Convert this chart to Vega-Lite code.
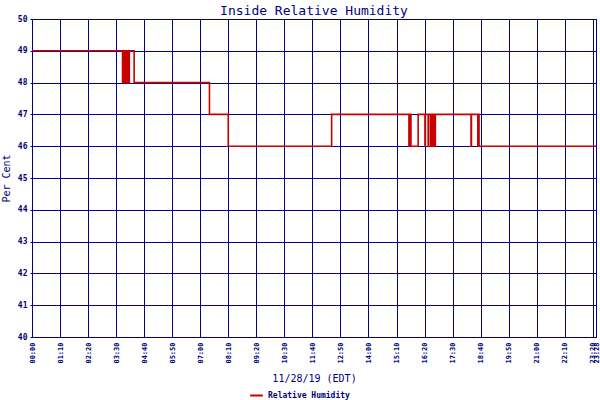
{
  "$schema": "https://vega.github.io/schema/vega-lite/v6.json",
  "width": 564,
  "height": 318,
  "autosize": "none",
  "padding": {"left": 32, "top": 19, "right": 4, "bottom": 63},
  "background": "white",
  "title": {"text": "Inside Relative Humidity", "font": "DejaVu Sans Mono", "fontSize": 13, "fontWeight": "normal", "color": "#000080", "anchor": "middle", "offset": 4, "dy": 7},
  "data": {"values": [
    {"t": "2019-11-28T00:00:00", "rh": 49, "series": "Relative Humidity"},
    {"t": "2019-11-28T03:46:00", "rh": 48, "series": "Relative Humidity"},
    {"t": "2019-11-28T03:47:00", "rh": 49, "series": "Relative Humidity"},
    {"t": "2019-11-28T03:51:00", "rh": 48, "series": "Relative Humidity"},
    {"t": "2019-11-28T03:52:00", "rh": 49, "series": "Relative Humidity"},
    {"t": "2019-11-28T03:56:00", "rh": 48, "series": "Relative Humidity"},
    {"t": "2019-11-28T03:57:00", "rh": 49, "series": "Relative Humidity"},
    {"t": "2019-11-28T04:01:00", "rh": 48, "series": "Relative Humidity"},
    {"t": "2019-11-28T04:03:00", "rh": 49, "series": "Relative Humidity"},
    {"t": "2019-11-28T04:15:00", "rh": 48, "series": "Relative Humidity"},
    {"t": "2019-11-28T07:23:00", "rh": 47, "series": "Relative Humidity"},
    {"t": "2019-11-28T08:10:00", "rh": 46, "series": "Relative Humidity"},
    {"t": "2019-11-28T12:28:00", "rh": 47, "series": "Relative Humidity"},
    {"t": "2019-11-28T15:41:00", "rh": 46, "series": "Relative Humidity"},
    {"t": "2019-11-28T15:42:00", "rh": 47, "series": "Relative Humidity"},
    {"t": "2019-11-28T15:46:00", "rh": 46, "series": "Relative Humidity"},
    {"t": "2019-11-28T16:04:00", "rh": 47, "series": "Relative Humidity"},
    {"t": "2019-11-28T16:21:00", "rh": 46, "series": "Relative Humidity"},
    {"t": "2019-11-28T16:22:00", "rh": 47, "series": "Relative Humidity"},
    {"t": "2019-11-28T16:29:00", "rh": 46, "series": "Relative Humidity"},
    {"t": "2019-11-28T16:30:00", "rh": 47, "series": "Relative Humidity"},
    {"t": "2019-11-28T16:35:00", "rh": 46, "series": "Relative Humidity"},
    {"t": "2019-11-28T16:36:00", "rh": 47, "series": "Relative Humidity"},
    {"t": "2019-11-28T16:40:00", "rh": 46, "series": "Relative Humidity"},
    {"t": "2019-11-28T16:42:00", "rh": 47, "series": "Relative Humidity"},
    {"t": "2019-11-28T16:46:00", "rh": 46, "series": "Relative Humidity"},
    {"t": "2019-11-28T16:47:00", "rh": 47, "series": "Relative Humidity"},
    {"t": "2019-11-28T18:16:00", "rh": 46, "series": "Relative Humidity"},
    {"t": "2019-11-28T18:17:00", "rh": 47, "series": "Relative Humidity"},
    {"t": "2019-11-28T18:33:00", "rh": 46, "series": "Relative Humidity"},
    {"t": "2019-11-28T18:34:00", "rh": 47, "series": "Relative Humidity"},
    {"t": "2019-11-28T18:36:00", "rh": 46, "series": "Relative Humidity"},
    {"t": "2019-11-28T23:28:00", "rh": 46, "series": "Relative Humidity"}
  ]},
  "mark": {"type": "line", "interpolate": "step-after", "strokeWidth": 1.6, "clip": true},
  "encoding": {
    "x": {
      "field": "t", "type": "temporal",
      "scale": {"domain": [
        {"year": 2019, "month": 11, "date": 28, "hours": 0, "minutes": 0},
        {"year": 2019, "month": 11, "date": 28, "hours": 23, "minutes": 28}
      ], "nice": false},
      "axis": {
        "title": "11/28/19 (EDT)",
        "format": "%H:%M",
        "labelAngle": -90,
        "labelOverlap": false,
        "labelFlush": false,
        "ticks": false,
        "labelPadding": 5,
        "titlePadding": 10,
        "values": [
          {"year": 2019, "month": 11, "date": 28, "hours": 0, "minutes": 0},
          {"year": 2019, "month": 11, "date": 28, "hours": 1, "minutes": 10},
          {"year": 2019, "month": 11, "date": 28, "hours": 2, "minutes": 20},
          {"year": 2019, "month": 11, "date": 28, "hours": 3, "minutes": 30},
          {"year": 2019, "month": 11, "date": 28, "hours": 4, "minutes": 40},
          {"year": 2019, "month": 11, "date": 28, "hours": 5, "minutes": 50},
          {"year": 2019, "month": 11, "date": 28, "hours": 7, "minutes": 0},
          {"year": 2019, "month": 11, "date": 28, "hours": 8, "minutes": 10},
          {"year": 2019, "month": 11, "date": 28, "hours": 9, "minutes": 20},
          {"year": 2019, "month": 11, "date": 28, "hours": 10, "minutes": 30},
          {"year": 2019, "month": 11, "date": 28, "hours": 11, "minutes": 40},
          {"year": 2019, "month": 11, "date": 28, "hours": 12, "minutes": 50},
          {"year": 2019, "month": 11, "date": 28, "hours": 14, "minutes": 0},
          {"year": 2019, "month": 11, "date": 28, "hours": 15, "minutes": 10},
          {"year": 2019, "month": 11, "date": 28, "hours": 16, "minutes": 20},
          {"year": 2019, "month": 11, "date": 28, "hours": 17, "minutes": 30},
          {"year": 2019, "month": 11, "date": 28, "hours": 18, "minutes": 40},
          {"year": 2019, "month": 11, "date": 28, "hours": 19, "minutes": 50},
          {"year": 2019, "month": 11, "date": 28, "hours": 21, "minutes": 0},
          {"year": 2019, "month": 11, "date": 28, "hours": 22, "minutes": 10},
          {"year": 2019, "month": 11, "date": 28, "hours": 23, "minutes": 20},
          {"year": 2019, "month": 11, "date": 28, "hours": 23, "minutes": 28}
        ]
      }
    },
    "y": {
      "field": "rh", "type": "quantitative",
      "scale": {"domain": [40, 50], "nice": false, "zero": false},
      "axis": {"title": "Per Cent", "values": [40, 41, 42, 43, 44, 45, 46, 47, 48, 49, 50], "labelFlush": false, "tickSize": 2, "labelPadding": 3, "titlePadding": 6}
    },
    "color": {
      "field": "series", "type": "nominal",
      "scale": {"range": ["#c80000"]},
      "legend": {"title": null, "orient": "none", "legendX": 217, "legendY": 369, "symbolType": "stroke", "symbolSize": 160, "symbolStrokeWidth": 2, "labelFont": "DejaVu Sans Mono", "labelFontSize": 8, "labelColor": "#000080", "labelFontWeight": "bold", "symbolOffset": 0}
    }
  },
  "config": {
    "view": {"stroke": "#000080", "strokeWidth": 1},
    "axis": {
      "domainColor": "#000080",
      "gridColor": "#000080",
      "gridOpacity": 1,
      "gridWidth": 1,
      "tickColor": "#000080",
      "labelColor": "#000080",
      "labelFont": "DejaVu Sans Mono",
      "labelFontSize": 8,
      "labelFontWeight": "bold",
      "titleColor": "#000080",
      "titleFont": "DejaVu Sans Mono",
      "titleFontSize": 10,
      "titleFontWeight": "normal",
      "grid": true
    },
    "axisX": {"labelFontSize": 7}
  }
}
